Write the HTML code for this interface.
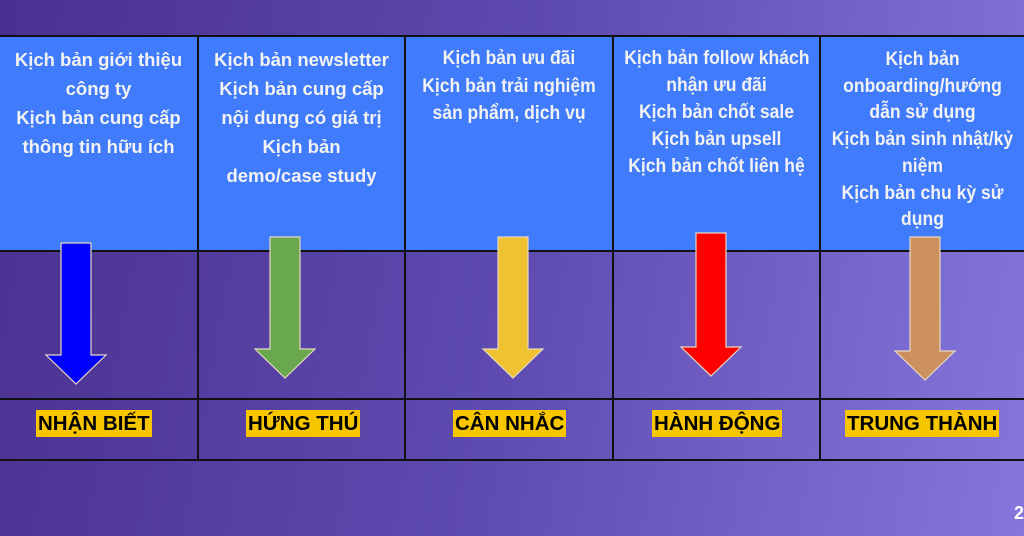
<!DOCTYPE html>
<html><head><meta charset="utf-8"><style>
body{margin:0;width:1024px;height:536px;overflow:hidden;background:linear-gradient(100deg,#4a3090 0%,#5e4bb0 50%,#8676dc 100%);font-family:"Liberation Sans","DejaVu Sans",sans-serif;position:relative}
.top{position:absolute;left:0;top:36px;width:1024px;height:215px;background:#407bfc}
.h{position:absolute;left:0;width:1024px;height:2px;background:#111}
.v{position:absolute;width:2px;top:36px;height:424px;background:#111}
.t{position:absolute;top:45px;color:#f2f2f2;font-weight:bold;font-size:18.5px;line-height:29px;text-align:center;white-space:nowrap}
.n{transform:scaleX(.9);transform-origin:center top;font-size:19.5px}
.l{position:absolute;top:410px;height:27px;background:#f7c600;color:#000;font-weight:bold;font-size:20.5px;line-height:27px;padding:0 2px;white-space:nowrap}
.num{position:absolute;right:0;top:503px;color:#fff;font-weight:bold;font-size:18px}
</style></head><body>
<div class="top"></div>
<div class="h" style="top:35px"></div>
<div class="h" style="top:250px"></div>
<div class="h" style="top:398px"></div>
<div class="h" style="top:459px"></div>
<div class="v" style="left:197px"></div>
<div class="v" style="left:404px"></div>
<div class="v" style="left:612px"></div>
<div class="v" style="left:819px"></div>

<div class="t" style="left:0;width:197px">Kịch bản giới thiệu<br>công ty<br>Kịch bản cung cấp<br>thông tin hữu ích</div>
<div class="t" style="left:199px;width:205px">Kịch bản newsletter<br>Kịch bản cung cấp<br>nội dung có giá trị<br>Kịch bản<br>demo/case study</div>
<div class="t n" style="left:406px;width:206px;top:45px;line-height:27.5px">Kịch bản ưu đãi<br>Kịch bản trải nghiệm<br>sản phẩm, dịch vụ</div>
<div class="t n" style="left:614px;width:205px;top:45px;line-height:27px">Kịch bản follow khách<br>nhận ưu đãi<br>Kịch bản chốt sale<br>Kịch bản upsell<br>Kịch bản chốt liên hệ</div>
<div class="t n" style="left:821px;width:203px;top:46px;line-height:26.7px">Kịch bản<br>onboarding/hướng<br>dẫn sử dụng<br>Kịch bản sinh nhật/kỷ<br>niệm<br>Kịch bản chu kỳ sử<br>dụng</div>

<svg width="1024" height="536" style="position:absolute;left:0;top:0">
<g stroke="#e8d8c0" stroke-width="1.2">
<polygon points="61,243 91,243 91,355 106,355 76,384 46,355 61,355" fill="#0000fe"/>
<polygon points="270,237 300,237 300,349 315,349 285,378 255,349 270,349" fill="#69a84f"/>
<polygon points="498,237 528,237 528,349 543,349 513,378 483,349 498,349" fill="#f0c231"/>
<polygon points="696,233 726,233 726,347 741,347 711,376 681,347 696,347" fill="#ff0000"/>
<polygon points="910,237 940,237 940,351 955,351 925,380 895,351 910,351" fill="#cc915f"/>
</g></svg>

<div class="l" style="left:36px">NHẬN BIẾT</div>
<div class="l" style="left:246px">HỨNG THÚ</div>
<div class="l" style="left:453px">CÂN NHẮC</div>
<div class="l" style="left:652px">HÀNH ĐỘNG</div>
<div class="l" style="left:845px">TRUNG THÀNH</div>
<div class="num">2</div>
</body></html>
